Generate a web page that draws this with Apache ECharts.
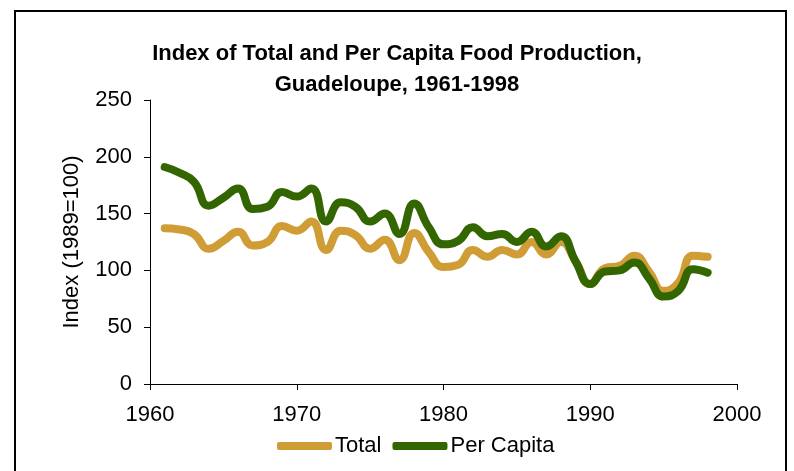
<!DOCTYPE html>
<html>
<head>
<meta charset="utf-8">
<script src="https://cdn.jsdelivr.net/npm/echarts@6/dist/echarts.min.js"></script>
<style>
  html, body { margin: 0; padding: 0; background: #fff; }
  #chart { width: 794px; height: 471px; }
</style>
</head>
<body>
<div id="chart"></div>
<script>
// years and index values
const years = [1961, 1962, 1963, 1964, 1965, 1966, 1967, 1968, 1969, 1970,
  1971, 1972, 1973, 1974, 1975, 1976, 1977, 1978, 1979, 1980,
  1981, 1982, 1983, 1984, 1985, 1986, 1987, 1988, 1989, 1990,
  1991, 1992, 1993, 1994, 1995, 1996, 1997, 1998];
const totalValues = [137, 136, 132, 119, 126, 134, 122, 125, 139, 135,
  143, 118, 135, 131, 119, 127, 109, 133, 116, 103,
  105, 118, 112, 118, 114, 125, 114, 125, 108, 88,
  102, 104, 113, 99, 82, 89, 113, 112];
const perCapitaValues = [191, 186, 178, 157, 164, 172, 154, 156, 169, 165,
  172, 143, 160, 156, 143, 150, 132, 159, 138, 123,
  126, 138, 130, 132, 125, 134, 121, 130, 108, 88,
  99, 100, 107, 93, 77, 82, 101, 98];
const xTicks = [1960, 1970, 1980, 1990, 2000];
const yTicks = [0, 50, 100, 150, 200, 250];

const FONT = 'Liberation Sans, Arial, sans-serif';

const chart = echarts.init(document.getElementById('chart'));

const pair = (vals) => years.map((y, i) => [y, vals[i]]);

chart.setOption({
  animation: false,
  backgroundColor: '#fff',
  title: {
    text: 'Index of Total and Per Capita Food Production,\nGuadeloupe, 1961-1998',
    left: 'center',
    top: 33,
    textStyle: { fontFamily: FONT, fontSize: 22, fontWeight: 'bold', color: '#000', lineHeight: 31 }
  },
  graphic: [{
    type: 'rect',
    shape: { x: 15, y: 11, width: 771, height: 520 },
    style: { fill: 'none', stroke: '#000', lineWidth: 2 },
    silent: true
  }],
  legend: {
    left: 272,
    top: 430,
    itemWidth: 55,
    itemHeight: 8,
    itemGap: 11,
    icon: 'roundRect',
    textStyle: { fontFamily: FONT, fontSize: 22, color: '#000', padding: [0, 0, 0, -2] },
    data: ['Total', 'Per Capita']
  },
  grid: { left: 150, right: 57, top: 100, bottom: 87 },
  xAxis: {
    type: 'value',
    min: xTicks[0],
    max: xTicks[xTicks.length - 1],
    interval: 10,
    splitLine: { show: false },
    axisLine: { lineStyle: { color: '#000', width: 1 } },
    axisTick: { show: true, inside: false, length: 6, lineStyle: { color: '#000' } },
    axisLabel: { fontFamily: FONT, fontSize: 22, color: '#000', margin: 20, formatter: (v) => String(v) }
  },
  yAxis: {
    type: 'value',
    min: yTicks[0],
    max: yTicks[yTicks.length - 1],
    interval: 50,
    name: 'Index (1989=100)',
    nameLocation: 'middle',
    nameRotate: 90,
    nameGap: 67,
    nameTextStyle: { fontFamily: FONT, fontSize: 22, color: '#000' },
    splitLine: { show: false },
    axisLine: { show: true, lineStyle: { color: '#000', width: 1 } },
    axisTick: { show: true, inside: false, length: 6, lineStyle: { color: '#000' } },
    axisLabel: { fontFamily: FONT, fontSize: 22, color: '#000', margin: 18 }
  },
  series: [
    {
      name: 'Total',
      type: 'line',
      data: pair(totalValues),
      smooth: 0.5,
      showSymbol: false,
      color: '#CF9C36',
      lineStyle: { width: 8, color: '#CF9C36', cap: 'round', join: 'round' }
    },
    {
      name: 'Per Capita',
      type: 'line',
      data: pair(perCapitaValues),
      smooth: 0.5,
      showSymbol: false,
      color: '#336600',
      lineStyle: { width: 8, color: '#336600', cap: 'round', join: 'round' }
    }
  ]
});
</script>
</body>
</html>
